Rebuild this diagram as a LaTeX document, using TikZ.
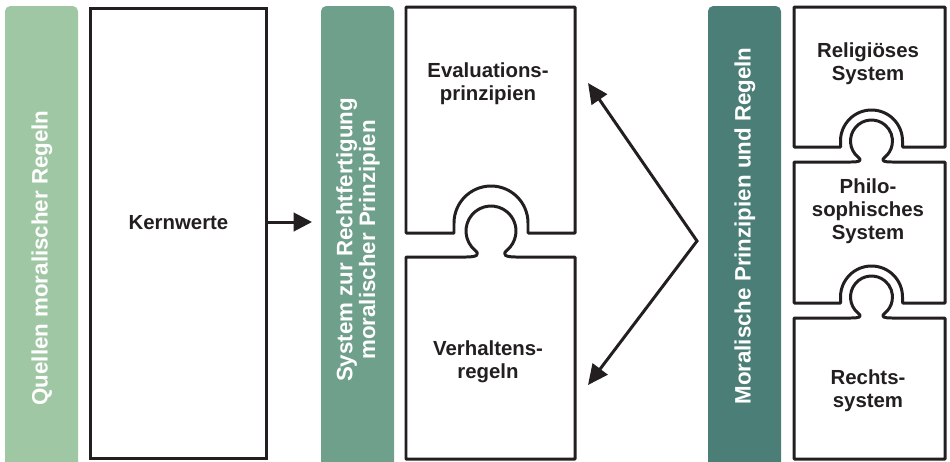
\documentclass[tikz,border=0pt]{standalone}
\usepackage{xcolor}
\usepackage{fontspec}
\setmainfont{Liberation Sans}
\usepackage{tikz}
\usetikzlibrary{arrows.meta}

\definecolor{srcgreen}{HTML}{A0C7A3}
\definecolor{sysgreen}{HTML}{6FA08B}
\definecolor{ruleteal}{HTML}{4A7E76}
\definecolor{ink}{HTML}{231F20}

\begin{document}
\begin{tikzpicture}[x=0.02cm,y=-0.02cm,
	piece/.style={draw=ink, line width=1.7pt, line join=round, fill=white},
	lbl/.style={font=\bfseries\fontsize{11.6}{13}\selectfont, text=ink, align=center, inner sep=0pt},
	bandlbl/.style={font=\bfseries\fontsize{12.7}{13}\selectfont, text=white, align=center, rotate=90, inner sep=0pt},
	arr/.style={draw=ink, line width=1.7pt, -{Triangle[length=10.5pt,width=10.5pt]}},
	dblarr/.style={draw=ink, line width=1.7pt, {Triangle[length=11.5pt,width=10.5pt]}-{Triangle[length=11.5pt,width=10.5pt]}}]
	\newcommand\Notch[4]{-- (#1+#3,#4) -- (#1+#3,#2) arc (0:-180:#3) -- (#1-#3,#4)}
	\newcommand\Knob[4]{-- (#1-#3,#4) .. controls (#1-0.6*#3,#4) and (#1-0.41*#3,#2+0.96*#3) .. (#1-0.643*#3,#2+0.766*#3) arc (130:410:#3) .. controls (#1+0.41*#3,#2+0.96*#3) and (#1+0.6*#3,#4) .. (#1+#3,#4)}

	\useasboundingbox (0,0) rectangle (950,461);
	\clip (0,0) rectangle (950,461);

	\fill[srcgreen, rounded corners=3pt] (5,6) rectangle (78,475);
	\fill[sysgreen, rounded corners=3pt] (321,6) rectangle (394,475);
	\fill[ruleteal, rounded corners=3pt] (708,6) rectangle (781,475);

	\node[bandlbl] (src) at (42,258) {Quellen moralischer Regeln};
	\node[bandlbl] (sys) at (358,240) {System zur Rechtfertigung\\moralischer Prinzipien};
	\node[bandlbl] (rules) at (745,226) {Moralische Prinzipien und Regeln};

	\node[draw=ink, line width=1.7pt, minimum width=100.3pt, minimum height=255.7pt] (kern) at (178.5,233.5) {};
	\node[lbl] (kernlbl) at (178.5,223) {Kernwerte};
	\coordinate (sysin) at (312,222);
	\draw[arr] (kern.east |- sysin) -- (sysin);

	\draw[piece] (406,7) -- (575,7) -- (575,233) \Notch{491}{223}{37}{233} -- (406,233) -- cycle;
	\draw[piece] (406,459) -- (406,257) \Knob{491}{231}{25}{257} -- (575,257) -- (575,459) -- cycle;
	\node[lbl] (eval) at (488,84) {Evaluations-\\prinzipien};
	\node[lbl] (verh) at (488,362) {Verhaltens-\\regeln};

	\coordinate (evaltip) at (588,83);
	\coordinate (apex) at (697,241);
	\coordinate (verhtip) at (588,385);
	\draw[dblarr] (evaltip) -- (apex) -- (verhtip);

	\draw[piece] (794,7) -- (945,7) -- (945,147) \Notch{871.5}{141}{31}{147} -- (794,147) -- cycle;
	\draw[piece] (794,303) -- (794,162) \Knob{871.5}{141}{21}{162} -- (945,162) -- (945,303) \Notch{871.5}{297}{31}{303} -- cycle;
	\draw[piece] (794,459) -- (794,318) \Knob{871.5}{297}{21}{318} -- (945,318) -- (945,459) -- cycle;
	\node[lbl] (relig) at (868,64) {Religiöses\\System};
	\node[lbl] (philo) at (868,211) {Philo-\\sophisches\\System};
	\node[lbl] (recht) at (868,391) {Rechts-\\system};

\end{tikzpicture}
\end{document}
